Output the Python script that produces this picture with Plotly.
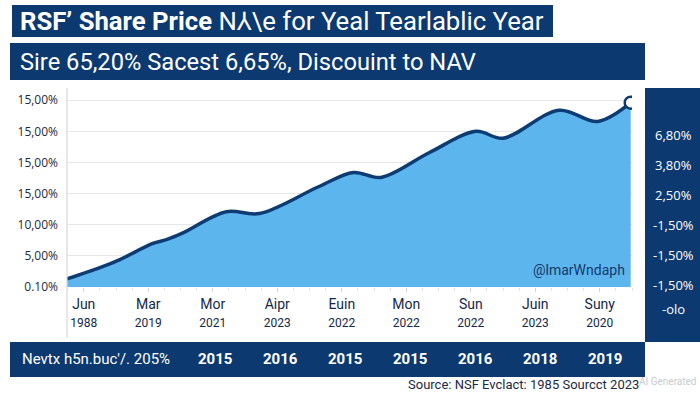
import plotly.graph_objects as go

# ---- data ----
period_pos = [-0.26, 0.25, 0.56, 1.07, 1.28, 1.52, 2.21, 2.72, 3.64, 4.18, 4.61, 5.36, 6.08, 6.50, 7.37, 7.97, 8.48]
price_vals = [1.3, 3.1, 4.4, 7.0, 7.6, 8.6, 12.1, 11.8, 16.1, 18.4, 17.6, 21.6, 25.0, 23.9, 28.4, 26.6, 29.6]

x_months = ["Jun", "Mar", "Mor", "Aipr", "Euin", "Mon", "Sun", "Juin", "Suny"]
x_years = ["1988", "2019", "2021", "2023", "2022", "2022", "2022", "2023", "2020"]

y_tickvals = [0, 5, 10, 15, 20, 25, 30]
y_ticktext = ["0.10%", "5,00%", "10,00%", "15,00%", "15,00%", "15,00%", "15,00%"]

right_labels = ["6,80%", "3,80%", "2,50%", "-1,50%", "-1,50%", "-1,50%", "-olo"]
bottom_lead = "Nevtx h5n.buc'/. 205%"
bottom_years = ["2015", "2016", "2015", "2015", "2016", "2018", "2019"]

title_text = "<b>RSF’ Share Price</b> N⅄\\e for Yeal Tearlablic Year"
subtitle_text = "Sire 65,20% Sacest 6,65%, Discouint to NAV"
source_text = "Source: NSF Evclact: 1985 Sourcct 2023"

# ---- layout helpers (pixel -> paper) ----
W, H = 700, 393
L, R, T, B = 67, 632, 94, 287
def px(x):
    return (x - L) / (R - L)
def py(y):
    return (B - y) / (B - T)

NAVY = "#0c3a70"
FILL = "#5db5ee"
LINE = "#0d3c73"

fig = go.Figure()
fig.add_trace(go.Scatter(
    x=period_pos, y=price_vals, mode="lines",
    line=dict(color=LINE, width=3.5, shape="spline", smoothing=1.0),
    fill="tozeroy", fillcolor=FILL, hoverinfo="skip", showlegend=False,
))
fig.add_trace(go.Scatter(
    x=[period_pos[-1]], y=[price_vals[-1]], mode="markers",
    marker=dict(size=12, color="white", line=dict(color=LINE, width=2.5)),
    hoverinfo="skip", showlegend=False,
))

shapes = []
shapes.append(dict(type="rect", xref="paper", yref="paper", x0=px(12), x1=px(553), y0=py(37), y1=py(5),
                   fillcolor=NAVY, line=dict(width=0), layer="above"))
shapes.append(dict(type="rect", xref="paper", yref="paper", x0=px(10), x1=px(645), y0=py(80), y1=py(43),
                   fillcolor=NAVY, line=dict(width=0), layer="above"))
shapes.append(dict(type="rect", xref="paper", yref="paper", x0=px(645), x1=px(702), y0=py(342), y1=py(88),
                   fillcolor=NAVY, line=dict(width=0), layer="above"))
shapes.append(dict(type="rect", xref="paper", yref="paper", x0=px(10), x1=px(645), y0=py(377), y1=py(342),
                   fillcolor=NAVY, line=dict(width=0), layer="above"))
shapes.append(dict(type="line", xref="paper", yref="paper", x0=0, x1=0, y0=py(338), y1=py(88),
                   line=dict(color="#d6d9de", width=1.2)))

ann = []
ann.append(dict(text=title_text, x=px(18), y=py(21), xref="paper", yref="paper", xanchor="left", yanchor="middle",
                showarrow=False, font=dict(family="Roboto", size=25.7, color="white")))
ann.append(dict(text=subtitle_text, x=px(18), y=py(62), xref="paper", yref="paper", xanchor="left", yanchor="middle",
                showarrow=False, font=dict(family="Roboto", size=23.7, color="white")))
for i, t in enumerate(right_labels):
    ann.append(dict(text=t, x=px(673), y=py(135 + 30 * i if i < 6 else 309), xref="paper", yref="paper",
                    xanchor="center", yanchor="middle", showarrow=False,
                    font=dict(family="Open Sans", size=13, color="white")))
ann.append(dict(text=bottom_lead, x=px(20), y=py(359), xref="paper", yref="paper", xanchor="left", yanchor="middle",
                showarrow=False, font=dict(family="Roboto", size=15, color="white")))
for i, t in enumerate(bottom_years):
    ann.append(dict(text="<b>" + t + "</b>", x=px(215 + 65 * i), y=py(359), xref="paper", yref="paper",
                    xanchor="center", yanchor="middle", showarrow=False,
                    font=dict(family="Roboto", size=15, color="white")))
ann.append(dict(text=source_text, x=px(641), y=py(384), xref="paper", yref="paper", xanchor="right", yanchor="middle",
                showarrow=False, font=dict(family="Roboto", size=13, color="#1c2a44")))
ann.append(dict(text="AI Generated", x=px(699), y=py(381), xref="paper", yref="paper", xanchor="right", yanchor="middle",
                showarrow=False, font=dict(family="Roboto", size=10, color="#c8ccd2")))
ann.append(dict(text="@lmarWndaph", x=px(627), y=py(270), xref="paper", yref="paper", xanchor="right", yanchor="middle",
                showarrow=False, font=dict(family="Roboto", size=14, color="#123a6a")))

tick_text = [f"<span style='font-size:14px'>{m}</span><br><span style='font-size:12px'>{y}</span>"
             for m, y in zip(x_months, x_years)]

fig.update_layout(
    width=W, height=H, margin=dict(l=L, r=W - R, t=T, b=H - B),
    paper_bgcolor="white", plot_bgcolor="white",
    shapes=shapes, annotations=ann,
    xaxis=dict(range=[-0.26, 8.5], tickvals=list(range(9)), ticktext=tick_text,
               showgrid=False, zeroline=False, showline=False,
               ticks="outside", ticklen=4, tickcolor="#d0d3d8",
               minor=dict(dtick=0.25, tick0=0, ticks="outside", ticklen=3, tickcolor="#e0e2e6"),
               tickfont=dict(family="Roboto", size=14, color="#13284a")),
    yaxis=dict(range=[0, 31], tickvals=y_tickvals, ticktext=y_ticktext,
               showgrid=True, gridcolor="#e6e7ea", gridwidth=1, zeroline=False, showline=False,
               ticks="", ticklabelstandoff=8,
               tickfont=dict(family="Open Sans", size=12, color="#1c2a44")),
)

fig.write_html("out.html", config={"displayModeBar": False},
               post_script="document.body.style.margin='0';document.body.style.overflow='hidden';")
